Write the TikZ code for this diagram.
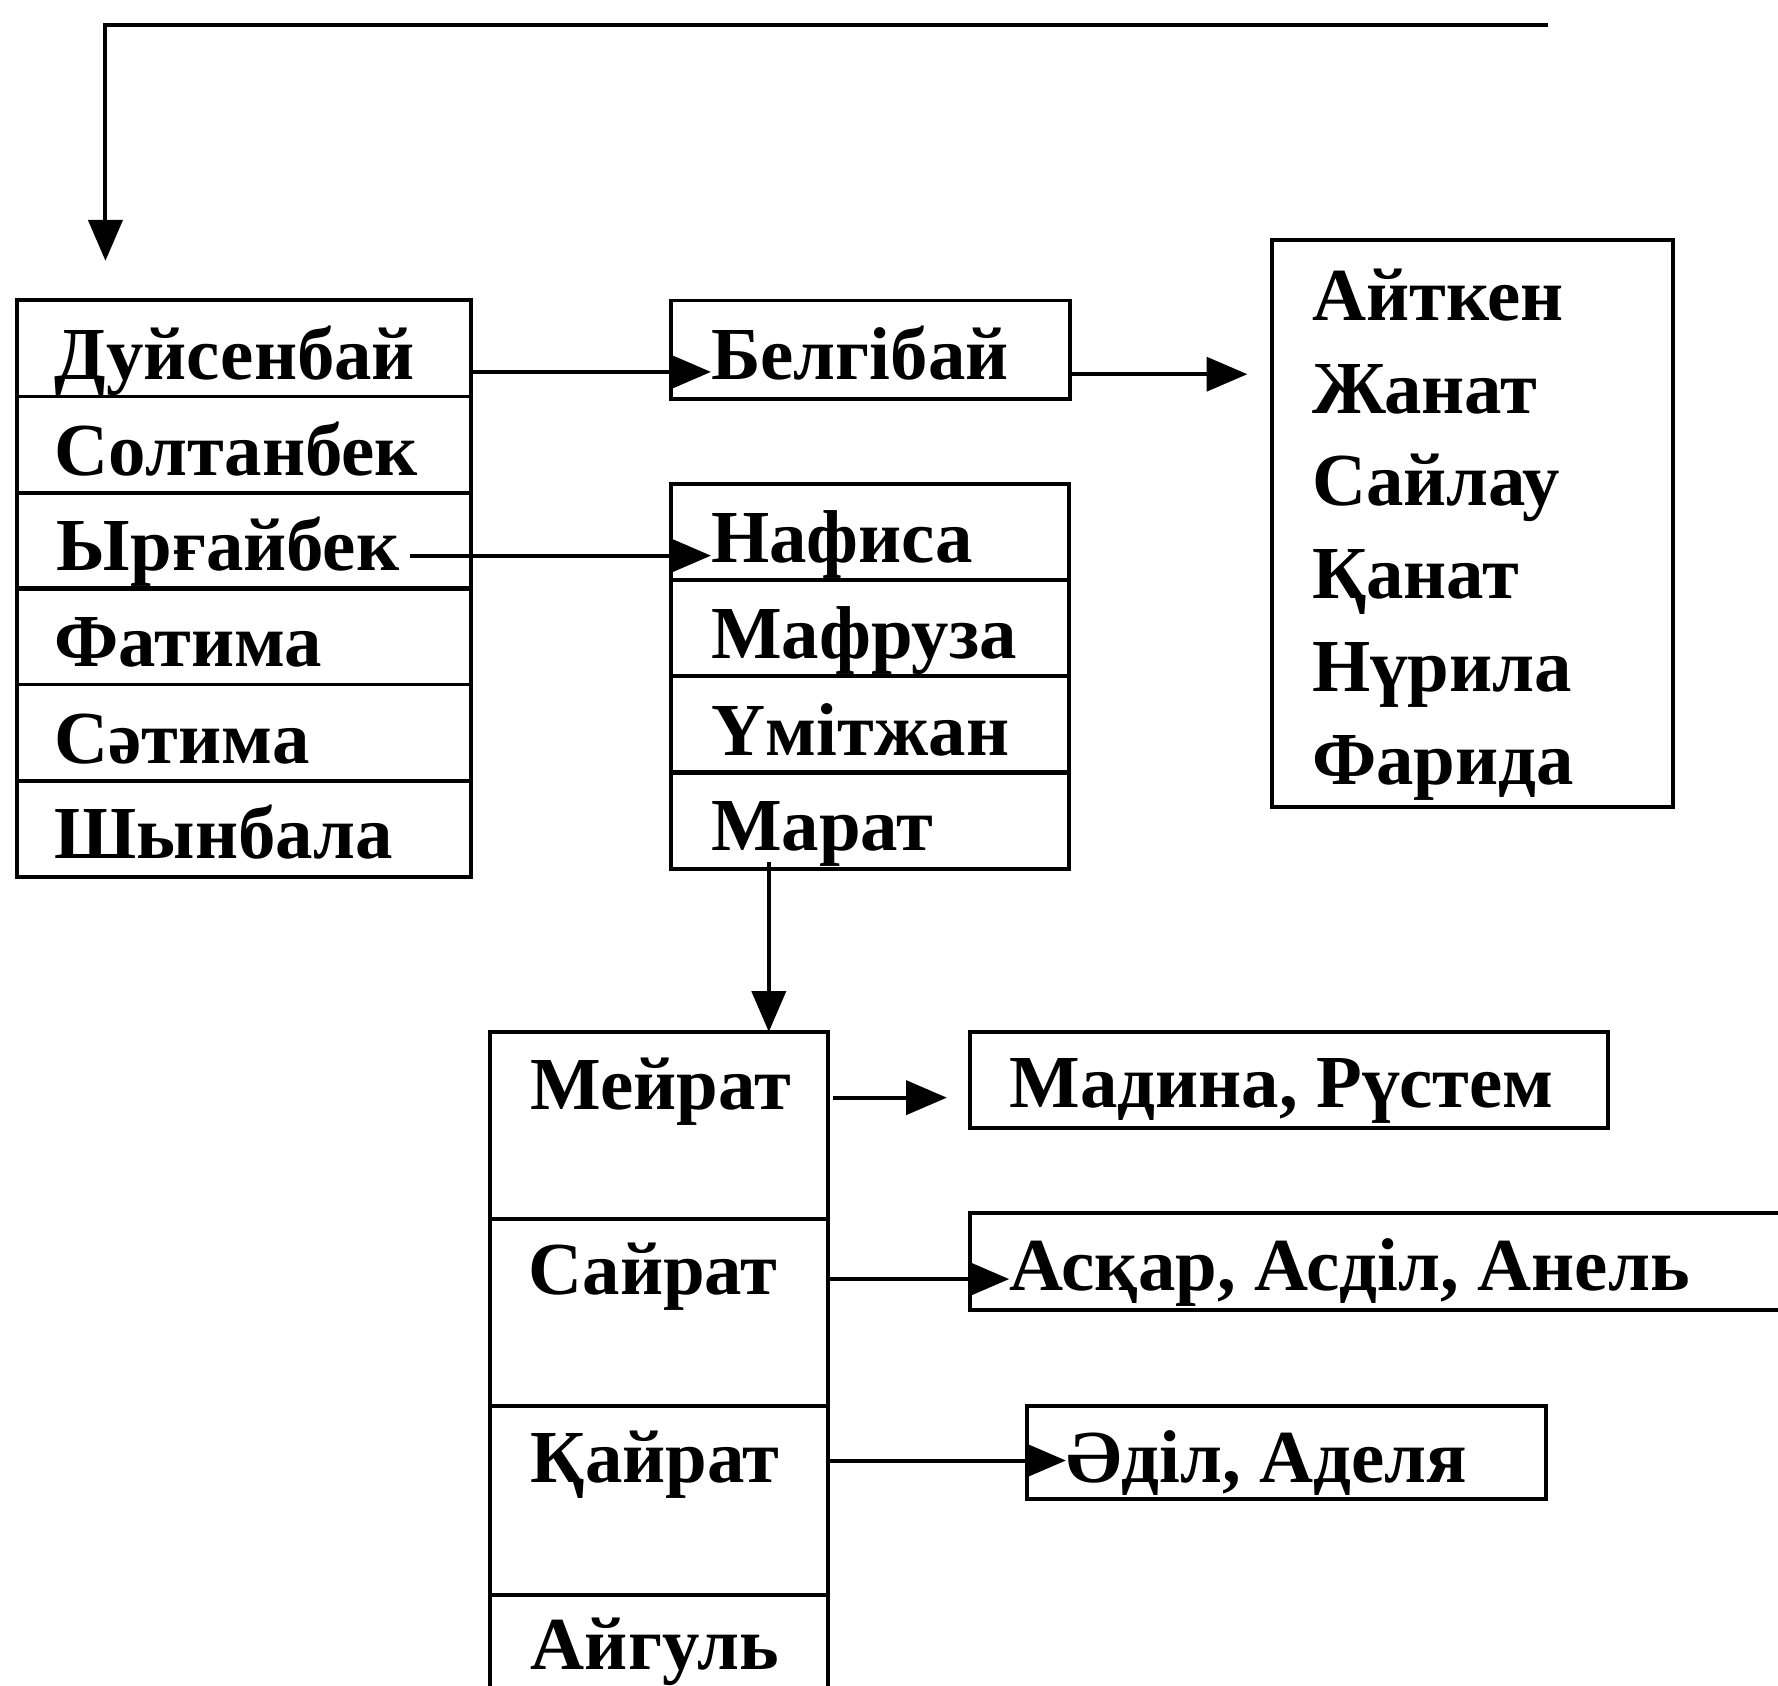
\documentclass[tikz,border=0pt]{standalone}
\usepackage{fontspec}
\setmainfont{Liberation Serif}
\usetikzlibrary{arrows.meta}
\begin{document}
\begin{tikzpicture}[x=1pt,y=-1pt,
  cell/.style={draw, line width=3.5pt, inner sep=0pt, outer sep=0pt},
  nm/.style={font=\fontsize{66}{80}\selectfont\bfseries, anchor=base west, inner sep=0pt},
  arr/.style={line width=3.5pt, -{Triangle[length=36pt,width=30pt]}},
  ln/.style={line width=3.5pt}]
\useasboundingbox (0,0) rectangle (1568,1486);
\clip (0,0) rectangle (1568,1486);
% left column
\node[cell, minimum width=400, minimum height=84.7] (c1) at (215,307.3) {};
\node[cell, minimum width=400, minimum height=84.7] (c2) at (215,392.0) {};
\node[cell, minimum width=400, minimum height=84.7] (c3) at (215,476.7) {};
\node[cell, minimum width=400, minimum height=84.7] (c4) at (215,561.3) {};
\node[cell, minimum width=400, minimum height=84.7] (c5) at (215,646.0) {};
\node[cell, minimum width=400, minimum height=84.7] (c6) at (215,730.7) {};
\node[nm] (t1) at (48,335) {Дуйсенбай};
\node[nm] (t2) at (48,419) {Солтанбек};
\node[nm] (t3) at (50,503) {Ырғайбек};
\node[nm] (t4) at (48,588) {Фатима};
\node[nm] (t5) at (48,673) {Сәтима};
\node[nm] (t6) at (48,757) {Шынбала};
% middle column
\node[cell, minimum width=352, minimum height=87] (b1) at (768,308.5) {};
\node[nm] (bt) at (627,335) {Белгібай};
\node[cell, minimum width=351, minimum height=84.75] (n1) at (767.5,469.4) {};
\node[cell, minimum width=351, minimum height=84.75] (n2) at (767.5,554.1) {};
\node[cell, minimum width=351, minimum height=84.75] (n3) at (767.5,638.9) {};
\node[cell, minimum width=351, minimum height=84.75] (n4) at (767.5,723.6) {};
\node[nm] (nt1) at (627,496) {Нафиса};
\node[nm] (nt2) at (627,581) {Мафруза};
\node[nm] (nt3) at (627,666) {Үмітжан};
\node[nm] (nt4) at (627,750) {Марат};
% right box
\node[cell, minimum width=353, minimum height=500] (rb) at (1298.5,462) {};
\node[nm] (r1) at (1157,283) {Айткен};
\node[nm] (r2) at (1157,365) {Жанат};
\node[nm] (r3) at (1157,446) {Сайлау};
\node[nm] (r4) at (1157,528) {Қанат};
\node[nm] (r5) at (1157,610) {Нүрила};
\node[nm] (r6) at (1157,692) {Фарида};
% bottom column
\node[cell, minimum width=298, minimum height=165] (m1) at (581,992.5) {};
\node[cell, minimum width=298, minimum height=165] (m2) at (581,1157.5) {};
\node[cell, minimum width=298, minimum height=167] (m3) at (581,1323.5) {};
\node[cell, minimum width=298, minimum height=165] (m4) at (581,1489.5) {};
\node[nm] (mt1) at (468,978) {Мейрат};
\node[nm] (mt2) at (466,1142) {Сайрат};
\node[nm] (mt3) at (468,1307) {Қайрат};
\node[nm] (mt4) at (468,1472) {Айгуль};
% children boxes
\node[cell, minimum width=563, minimum height=85] (k1) at (1136.5,952.5) {};
\node[nm] (kt1) at (890,977) {Мадина, Рүстем};
\node[cell, minimum width=900, minimum height=85] (k2) at (1305,1112.5) {};
\node[nm] (kt2) at (890,1138) {Асқар, Асділ, Анель};
\node[cell, minimum width=457, minimum height=82] (k3) at (1134.5,1281) {};
\node[nm] (kt3) at (940,1307) {Әділ, Аделя};
% connectors
\coordinate (topR) at (1365,22);
\coordinate (topL) at (93,22);
\coordinate (topTip) at (93,230);
\draw[arr] (topR) -- (topL) -- (topTip);
\coordinate (s1) at (415,328);
\draw[arr] (s1) -- (s1 -| bt.west);
\coordinate (s2) at (944,330);
\coordinate (e2) at (1100,330);
\draw[arr] (s2) -- (e2);
\coordinate (s3) at (362,490);
\draw[arr] (s3) -- (s3 -| nt1.west);
\coordinate (s4) at (678,760);
\draw[arr] (s4) -- (s4 |- m1.north);
\coordinate (s5) at (735,968);
\coordinate (e5) at (835,968);
\draw[arr] (s5) -- (e5);
\coordinate (s6) at (730,1128);
\draw[arr] (s6) -- (s6 -| kt2.west);
\coordinate (s7) at (730,1288);
\draw[arr] (s7) -- (s7 -| kt3.west);
\end{tikzpicture}
\end{document}
